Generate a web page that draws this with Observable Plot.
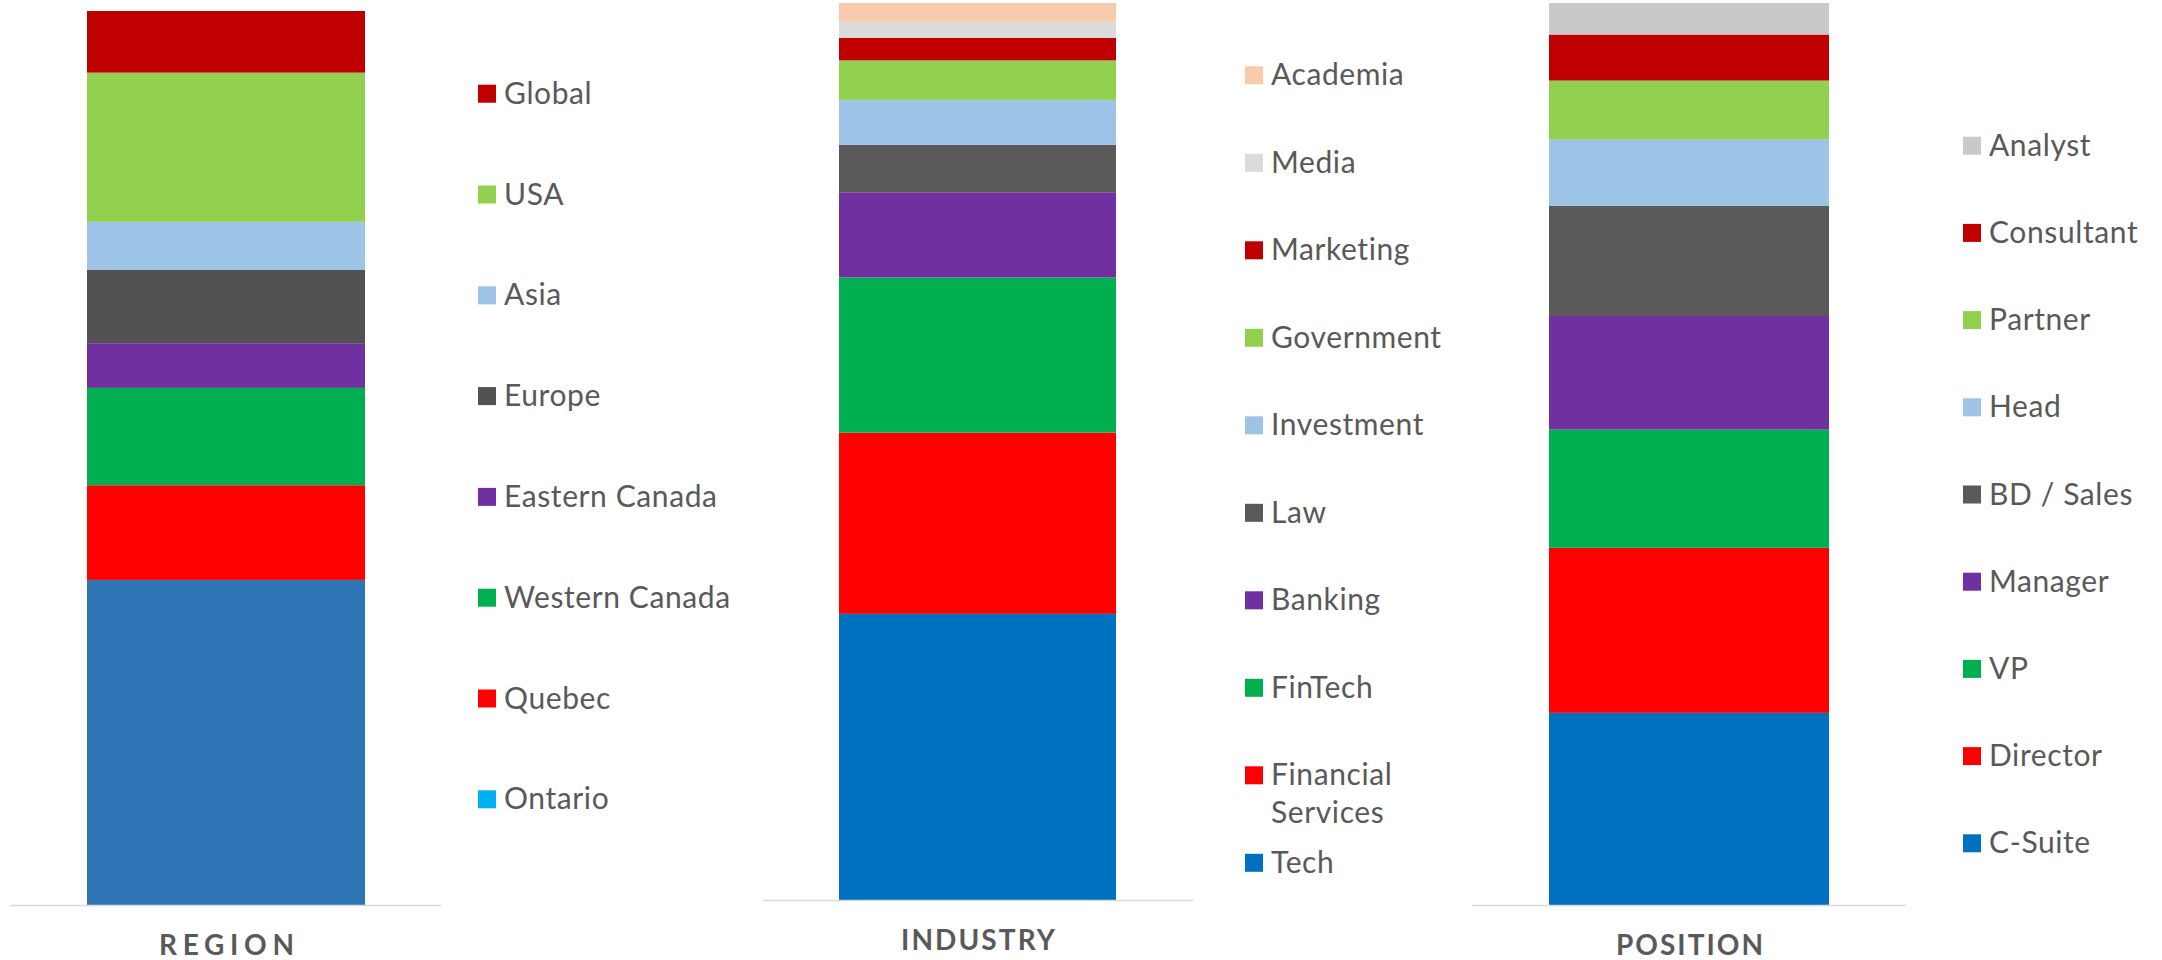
<!DOCTYPE html>
<html>
<head>
<meta charset="utf-8">
<script src="https://cdn.jsdelivr.net/npm/d3@7"></script>
<script src="https://cdn.jsdelivr.net/npm/@observablehq/plot@0.6"></script>
<style>
  html, body { margin: 0; padding: 0; background: #ffffff; }
  #wrap { position: relative; width: 2162px; height: 960px; overflow: hidden; font-family: Lato, "Open Sans", sans-serif; }
  #wrap > svg { position: absolute; top: 0; }
</style>
</head>
<body>
<div id="wrap"></div>
<script>
// ---------- DATA ----------
const regionCategories = ["Ontario", "Quebec", "Western Canada", "Eastern Canada", "Europe", "Asia", "USA", "Global"];
const regionValues     = [36.4, 10.6, 10.9, 5.0, 8.2, 5.4, 16.7, 6.9];
const regionColors     = ["#2E75B6", "#FF0000", "#00B050", "#7030A0", "#525252", "#9DC3E6", "#92D050", "#C00000"];
const regionSwatches   = ["#00B0F0", "#FF0000", "#00B050", "#7030A0", "#525252", "#9DC3E6", "#92D050", "#C00000"];

const industryCategories = ["Tech", "Financial Services", "FinTech", "Banking", "Law", "Investment", "Government", "Marketing", "Media", "Academia"];
const industryValues     = [31.9, 20.2, 17.3, 9.5, 5.3, 5.0, 4.4, 2.5, 1.8, 2.1];
const industryColors     = ["#0070C0", "#FF0000", "#00B050", "#7030A0", "#595959", "#9DC3E6", "#92D050", "#C00000", "#DBDBDB", "#F8CBAD"];

const positionCategories = ["C-Suite", "Director", "VP", "Manager", "BD / Sales", "Head", "Partner", "Consultant", "Analyst"];
const positionValues     = [21.3, 18.3, 13.1, 12.6, 12.2, 7.4, 6.5, 5.1, 3.5];
const positionColors     = ["#0070C0", "#FF0000", "#00B050", "#7030A0", "#595959", "#9DC3E6", "#92D050", "#C00000", "#C9C9C9"];

const panelTitles = ["REGION", "INDUSTRY", "POSITION"];

// ---------- LAYOUT ----------
const panels = [
  {title: panelTitles[0], cats: regionCategories, vals: regionValues, colors: regionColors, swatches: regionSwatches,
   left: 10, width: 431, top: 11, bottom: 905, titleLen: 135,
   legX: 478, legY0: 93.7, legStep: 100.8},
  {title: panelTitles[1], cats: industryCategories, vals: industryValues, colors: industryColors, swatches: industryColors,
   left: 763, width: 430, top: 3, bottom: 900, titleLen: 154,
   legX: 1245, legY0: 75.3, legStep: 87.5},
  {title: panelTitles[2], cats: positionCategories, vals: positionValues, colors: positionColors, swatches: positionColors,
   left: 1472, width: 434, top: 3, bottom: 905, titleLen: 147,
   legX: 1963, legY0: 145.7, legStep: 87.2}
];

const H = 960;
const wrap = document.getElementById("wrap");

for (const p of panels) {
  const data = p.cats.map((c, i) => ({group: p.title, category: c, value: p.vals[i]}));
  const chart = Plot.plot({
    width: p.width,
    height: H,
    marginLeft: 0,
    marginRight: 0,
    marginTop: p.top,
    marginBottom: H - p.bottom,
    style: {fontFamily: "Lato, 'Open Sans', sans-serif", color: "#595959", background: "transparent", overflow: "visible"},
    x: {domain: [p.title], padding: 0.215, axis: null},
    y: {domain: [0, d3.sum(p.vals)], axis: null},
    color: {domain: p.cats, range: p.colors},
    marks: [
      Plot.barY(data, {x: "group", y: "value", fill: "category", order: null}),
      Plot.ruleY([0], {stroke: "#D9D9D9", strokeWidth: 1.6}),
      Plot.axisX({tickSize: 0, tickPadding: 30, fontSize: 28, fontWeight: "bold", fill: "#595959", label: null})
    ]
  });
  chart.style.left = p.left + "px";
  wrap.appendChild(chart);
  // letter-spacing of the panel title
  d3.select(chart).selectAll('g[aria-label="x-axis tick label"] text')
    .attr("textLength", p.titleLen).attr("lengthAdjust", "spacing");
}

// ---------- LEGENDS ----------
const leg = d3.select(wrap).append("svg")
  .attr("width", 2162).attr("height", H)
  .style("left", "0px")
  .attr("font-family", "Lato, 'Open Sans', sans-serif");

for (const p of panels) {
  const items = p.cats.map((c, i) => ({cat: c, color: p.swatches[i]})).reverse();
  const g = leg.append("g");
  items.forEach((it, i) => {
    const cy = p.legY0 + i * p.legStep;
    g.append("rect").attr("x", p.legX).attr("y", cy - 9).attr("width", 18).attr("height", 18).attr("fill", it.color);
    const t = g.append("text").attr("x", p.legX + 26).attr("y", cy + 10)
      .attr("font-size", 30).attr("fill", "#595959").attr("letter-spacing", 0.6);
    if (it.cat === "Financial Services") {
      t.append("tspan").attr("x", p.legX + 26).text("Financial");
      t.append("tspan").attr("x", p.legX + 26).attr("dy", 38).text("Services");
    } else {
      t.text(it.cat);
    }
  });
}
</script>
</body>
</html>
